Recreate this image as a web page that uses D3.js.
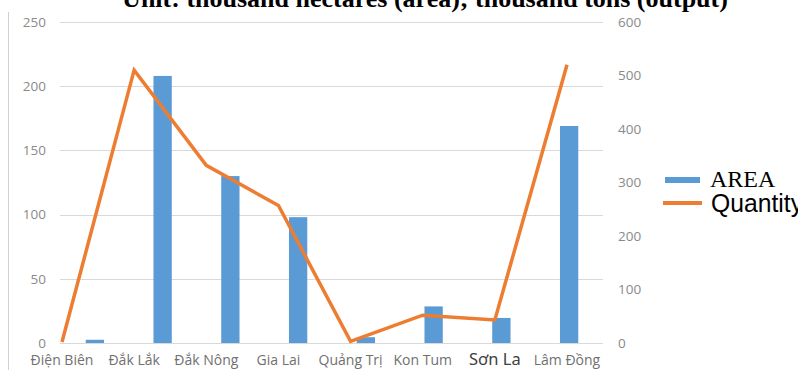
<!DOCTYPE html>
<html>
<head>
<meta charset="utf-8">
<script src="https://cdn.jsdelivr.net/npm/d3@7"></script>
<style>
  body { margin: 0; background: #fff; }
  svg { display: block; }
</style>
</head>
<body>
<svg id="chart"></svg>
<script>
// data
const provinces = ["Điện Biên", "Đắk Lắk", "Đắk Nông", "Gia Lai", "Quảng Trị", "Kon Tum", "Sơn La", "Lâm Đồng"];
const areaValues = [2.5, 208, 130, 98, 4.5, 28.5, 19.5, 169];      // thousand ha (left axis)
const quantityValues = [2, 510, 332, 257, 3, 52, 43, 520];         // thousand tons (right axis)
const leftTicks = [0, 50, 100, 150, 200, 250];
const rightTicks = [0, 100, 200, 300, 400, 500, 600];
const titleText = "Unit: thousand hectares (area); thousand tons (output)";
const legendNames = ["AREA", "Quantity"];

const W = 798, H = 370;
const barColor = "#5b9bd5", lineColor = "#ed7d31";

const svg = d3.select("#chart").attr("width", W).attr("height", H);

// scales
const yL = d3.scaleLinear().domain([0, 250]).range([343, 22]);
const yR = d3.scaleLinear().domain([0, 600]).range([343, 22]);
// bars sit on a band scale, line + labels on a point scale (they don't line up in the original)
const xBand = d3.scaleBand().domain(provinces).range([61, 603]).paddingInner(0.73).paddingOuter(0.365);
const xPt = d3.scalePoint().domain(provinces).range([62, 567]);

// left border line of the image
svg.append("line")
    .attr("x1", 8.5).attr("x2", 8.5)
    .attr("y1", 12).attr("y2", H)
    .attr("stroke", "#d0d0d0").attr("stroke-width", 1);

// title (cut at the top)
svg.append("text")
    .attr("x", 425).attr("y", 7)
    .attr("text-anchor", "middle")
    .style("font-family", "'Liberation Serif', 'DejaVu Serif', serif")
    .style("font-weight", "bold")
    .style("font-size", "26px")
    .attr("fill", "#000")
    .text(titleText);

// grid
svg.append("g")
    .selectAll("line")
    .data(leftTicks)
    .enter().append("line")
    .attr("x1", 60).attr("x2", 603)
    .attr("y1", d => Math.round(yL(d)) + 0.5)
    .attr("y2", d => Math.round(yL(d)) + 0.5)
    .attr("stroke", "#d9d9d9").attr("stroke-width", 1);

// axes
const axisL = svg.append("g")
    .attr("transform", "translate(60,0)")
    .call(d3.axisLeft(yL).tickValues(leftTicks).tickSize(0).tickPadding(14));
const axisR = svg.append("g")
    .attr("transform", "translate(603,0)")
    .call(d3.axisRight(yR).tickValues(rightTicks).tickSize(0).tickPadding(15));
[axisL, axisR].forEach(a => {
    a.select(".domain").remove();
    a.selectAll("text")
        .style("font-family", "'Open Sans', 'Noto Sans', sans-serif")
        .style("font-size", "13.5px")
        .attr("fill", "#8a8a8a");
});

// bars
svg.append("g")
    .selectAll("rect")
    .data(provinces)
    .enter().append("rect")
    .attr("x", d => xBand(d))
    .attr("width", xBand.bandwidth())
    .attr("y", (d, i) => yL(areaValues[i]))
    .attr("height", (d, i) => yL(0) - yL(areaValues[i]))
    .attr("fill", barColor);

// line
const line = d3.line()
    .x((d, i) => xPt(provinces[i]))
    .y(d => yR(d));
svg.append("path")
    .datum(quantityValues)
    .attr("d", line)
    .attr("fill", "none")
    .attr("stroke", lineColor)
    .attr("stroke-width", 3.5)
    .attr("stroke-linejoin", "miter");

// category labels
svg.append("g")
    .selectAll("text")
    .data(provinces)
    .enter().append("text")
    .attr("x", d => xPt(d))
    .attr("y", 365)
    .attr("text-anchor", "middle")
    .style("font-family", d => d === "Sơn La" ? "'Noto Sans', sans-serif" : "'Open Sans', 'Noto Sans', sans-serif")
    .style("font-size", d => d === "Sơn La" ? "16.5px" : "14px")
    .attr("fill", d => d === "Sơn La" ? "#404040" : "#707070")
    .text(d => d);

// legend
const legend = svg.append("g");
legend.append("line")
    .attr("x1", 665).attr("x2", 700).attr("y1", 180).attr("y2", 180)
    .attr("stroke", barColor).attr("stroke-width", 6);
legend.append("line")
    .attr("x1", 663).attr("x2", 702).attr("y1", 203).attr("y2", 203)
    .attr("stroke", lineColor).attr("stroke-width", 4);
legend.append("text")
    .attr("x", 710).attr("y", 187)
    .style("font-family", "'Liberation Serif', serif")
    .style("font-size", "24px")
    .attr("fill", "#000")
    .text(legendNames[0]);
legend.append("text")
    .attr("x", 711).attr("y", 212)
    .attr("textLength", 92).attr("lengthAdjust", "spacingAndGlyphs")
    .style("font-family", "'Liberation Sans', Arial, sans-serif")
    .style("font-size", "26px")
    .attr("fill", "#000")
    .text(legendNames[1]);
</script>
</body>
</html>
